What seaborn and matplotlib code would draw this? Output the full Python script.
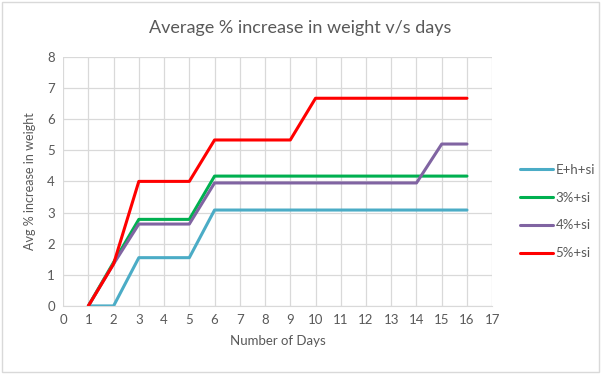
import pandas as pd
import matplotlib.pyplot as plt
import seaborn as sns

# --- Data ---
days = list(range(1, 17))
e_h_si = [0, 0, 1.55, 1.55, 1.55, 3.08, 3.08, 3.08, 3.08, 3.08, 3.08, 3.08, 3.08, 3.08, 3.08, 3.08]
p3_si = [0, 1.4, 2.78, 2.78, 2.78, 4.17, 4.17, 4.17, 4.17, 4.17, 4.17, 4.17, 4.17, 4.17, 4.17, 4.17]
p4_si = [0, 1.35, 2.63, 2.63, 2.63, 3.95, 3.95, 3.95, 3.95, 3.95, 3.95, 3.95, 3.95, 3.95, 5.2, 5.2]
p5_si = [0, 1.35, 4.0, 4.0, 4.0, 5.33, 5.33, 5.33, 5.33, 6.67, 6.67, 6.67, 6.67, 6.67, 6.67, 6.67]
series_names = ["E+h+si", "3%+si", "4%+si", "5%+si"]
colors = ["#4BACC6", "#00B050", "#8064A2", "#FF0000"]

df = pd.DataFrame({
    "Day": days * 4,
    "Value": e_h_si + p3_si + p4_si + p5_si,
    "Series": sum([[n] * len(days) for n in series_names], []),
})

sns.set_style("white")
plt.rcParams['font.family'] = ['Lato', 'DejaVu Sans']
text_col = "#595959"

fig = plt.figure(figsize=(6.01, 3.74), dpi=100)
ax = fig.add_axes([0.105, 0.182, 0.714, 0.666])

sns.lineplot(data=df, x="Day", y="Value", hue="Series", palette=colors,
             hue_order=series_names, linewidth=2.2, ax=ax, legend=False)

ax.set_xlim(0, 17)
ax.set_ylim(0, 8)
ax.set_xticks(range(0, 18))
ax.set_yticks(range(0, 9))
ax.grid(True, color="#D9D9D9", linewidth=0.9)
ax.set_axisbelow(True)
for s in ["top", "right", "left"]:
    ax.spines[s].set_visible(False)
ax.spines["bottom"].set_color("#D9D9D9")
ax.tick_params(axis="both", colors=text_col, labelsize=9.5, length=0, pad=6)

# title centred on the whole chart, as in Excel
fig.text(0.5, 0.925, "Average % increase in weight v/s days", fontsize=13,
         color=text_col, ha="center", va="center")
ax.set_xlabel("Number of Days", fontsize=9.5, color=text_col, labelpad=6)
ax.set_ylabel("Avg % increase in weight", fontsize=9, color=text_col, labelpad=8)

# legend on the right
handles = [plt.Line2D([], [], color=c, linewidth=2.2) for c in colors]
fig.legend(handles, series_names, loc="upper left", bbox_to_anchor=(0.845, 0.594),
           frameon=False, fontsize=9.5, labelcolor=text_col, handlelength=2.5,
           handletextpad=0.2, labelspacing=1.2)

# light chart border
fig.patches.append(plt.Rectangle((0.003, 0.005), 0.994, 0.99, transform=fig.transFigure,
                                 fill=False, edgecolor="#D9D9D9", linewidth=1))

plt.savefig("out.png", dpi=100)
